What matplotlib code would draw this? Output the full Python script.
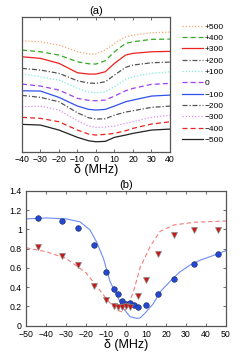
import matplotlib
matplotlib.use("Agg")
import matplotlib.pyplot as plt
import numpy as np

plt.rcParams['font.family'] = ['Liberation Sans', 'DejaVu Sans']
plt.rcParams['axes.unicode_minus'] = True

# ---- panel (a) data ----
detuning_a = [-40, -30, -20, -10, -4, 0, 5, 10, 16, 20, 30, 40]
labels_a = ['+500', '+400', '+300', '+200', '+100', '0',
            '\u2212100', '\u2212200', '\u2212300', '\u2212400', '\u2212500']
sig_p500 = [111.3, 110.3, 107, 100.3, 98, 98, 102, 108.7, 115.3, 117, 119.3, 120]
sig_p400 = [102, 100.3, 97, 90.3, 88.3, 88, 91.3, 100.3, 108.7, 110.3, 112.7, 113]
sig_p300 = [95.3, 93.7, 88.7, 79.3, 78, 78, 80.3, 88.7, 97, 98.7, 100.3, 100.7]
sig_p200 = [83.7, 82, 78.7, 71.3, 69, 68.7, 70.3, 77, 84.7, 87, 89.3, 90]
sig_p100 = [78, 75.3, 72, 63.7, 60, 59.3, 60.3, 65.3, 72.7, 75.3, 78.7, 80.3]
sig_0 = [68, 66, 62, 53.7, 51.7, 51.3, 52, 56, 61.3, 63.7, 67.7, 68.7]
sig_m100 = [61.3, 61, 54.7, 46, 42.7, 42, 42.7, 46, 50.3, 52, 56, 57]
sig_m200 = [56.7, 54.7, 50.3, 39.3, 34.3, 33, 33.3, 37, 40, 41.3, 44.7, 46]
sig_m300 = [45.3, 46, 42, 31.3, 26, 24.7, 25, 26, 28.7, 30.3, 34.7, 37]
sig_m400 = [34.7, 33.7, 30.3, 22, 18, 17, 17.7, 18.7, 21.3, 23.7, 28, 30.3]
sig_m500 = [27.7, 27, 22, 14.7, 11.3, 10.3, 10.7, 14.7, 17, 18.7, 22, 23]
series_a = [sig_p500, sig_p400, sig_p300, sig_p200, sig_p100, sig_0,
            sig_m100, sig_m200, sig_m300, sig_m400, sig_m500]
styles_a = [
    dict(color='#f5a870', ls=(0, (1, 1.5))),
    dict(color='#33aa22', ls=(0, (4, 2.5))),
    dict(color='#ee2020', ls='-'),
    dict(color='#555555', ls=(0, (4, 1.5, 1, 1.5))),
    dict(color='#80eedd', ls=(0, (1, 1.5))),
    dict(color='#a040f0', ls=(0, (4, 2.5))),
    dict(color='#3050ee', ls='-'),
    dict(color='#555555', ls=(0, (4, 1.5, 1, 1.5))),
    dict(color='#dd90f0', ls=(0, (1, 1.5))),
    dict(color='#ee2020', ls=(0, (4, 2.5))),
    dict(color='#222222', ls='-'),
]

# ---- panel (b) data ----
circ_x = [-44, -32, -24, -16, -10, -6, -4, -2, 0, 2, 4, 6, 10, 16, 24, 34, 46]
circ_y = [1.115, 1.09, 1.02, 0.84, 0.555, 0.385, 0.326, 0.26, 0.225, 0.24, 0.215, 0.197, 0.21, 0.326, 0.485, 0.64, 0.75]
tri_x = [-44, -32, -24, -16, -10, -6, -4, -2, 0, 2, 6, 10, 16, 24, 34, 46]
tri_y = [0.815, 0.72, 0.63, 0.41, 0.267, 0.205, 0.197, 0.19, 0.2, 0.195, 0.31, 0.475, 0.75, 0.94, 0.995, 0.99]
fitb_x = [-50, -40, -30, -23, -18, -14.7, -11.3, -8, -4.7, -1.3, 2, 5.3, 7, 9.5, 13.7, 17, 22, 27, 32, 37, 43.7, 50]
fitb_y = [1.11, 1.12, 1.11, 1.08, 0.995, 0.87, 0.70, 0.46, 0.32, 0.18, 0.094, 0.077, 0.08, 0.13, 0.23, 0.35, 0.46, 0.56, 0.63, 0.68, 0.73, 0.78]
fitr_x = [-50, -40, -30, -20, -15, -10, -5, -2, 0.3, 3.7, 7, 12, 17, 24, 34, 50]
fitr_y = [0.81, 0.77, 0.70, 0.55, 0.42, 0.285, 0.165, 0.145, 0.18, 0.35, 0.6, 0.82, 0.98, 1.047, 1.075, 1.088]

fig = plt.figure(figsize=(2.43, 3.52), dpi=100)

spine_c = '#555555'

# ---- panel (a) ----
ax1 = fig.add_axes([0.0905, 0.568, 0.609, 0.3835])
handles = []
for ys, st, lab in zip(series_a, styles_a, labels_a):
    h, = ax1.plot(detuning_a, ys, lw=0.9, label=lab, **st)
    handles.append(h)
ax1.set_xlim(-40, 40)
ax1.set_ylim(0, 135)
ax1.set_xticks(range(-40, 41, 10))
ax1.set_yticks([])
ax1.tick_params(axis='x', direction='in', top=True, labelsize=6.3, length=2.5,
                width=0.6, color=spine_c, pad=2)
for s in ax1.spines.values():
    s.set_color(spine_c)
    s.set_linewidth(0.9)
ax1.set_title('(a)', fontsize=8, pad=2)
ax1.set_xlabel('\u03b4 (MHz)', fontsize=9, labelpad=0)

fig.legend(handles=handles, labels=labels_a, loc='upper left',
           bbox_to_anchor=(0.75, 0.935), frameon=False, fontsize=6,
           handlelength=2.5, handletextpad=0.2, labelspacing=0.42,
           borderpad=0, borderaxespad=0)

# ---- panel (b) ----
ax2 = fig.add_axes([0.107, 0.0747, 0.823, 0.3827])
ax2.plot(fitb_x, fitb_y, color='#6f8cf5', lw=0.8)
ax2.plot(fitr_x, fitr_y, color='#f27d7d', lw=0.8, ls=(0, (4, 2.5)))
ax2.plot(circ_x, circ_y, 'o', color='#2347d6', mec='#223366', mew=0.5, ms=4)
ax2.plot(tri_x, tri_y, 'v', color='#cc1515', mec='#888888', mew=0.5, ms=4.5)
ax2.set_xlim(-50, 50)
ax2.set_ylim(0, 1.4)
ax2.set_xticks(range(-50, 51, 10))
ax2.set_yticks([0, 0.2, 0.4, 0.6, 0.8, 1.0, 1.2, 1.4])
ax2.set_yticklabels(['0', '0.2', '0.4', '0.6', '0.8', '1', '1.2', '1.4'])
ax2.tick_params(direction='in', top=True, right=True, labelsize=6.3, length=2.5,
                width=0.6, color=spine_c)
ax2.tick_params(axis='x', pad=3.2)
ax2.tick_params(axis='y', pad=3)
for s in ax2.spines.values():
    s.set_color(spine_c)
    s.set_linewidth(0.9)
ax2.set_title('(b)', fontsize=8, pad=2)
ax2.set_xlabel('\u03b4 (MHz)', fontsize=9, labelpad=0)

fig.savefig('out.png', dpi=100)
